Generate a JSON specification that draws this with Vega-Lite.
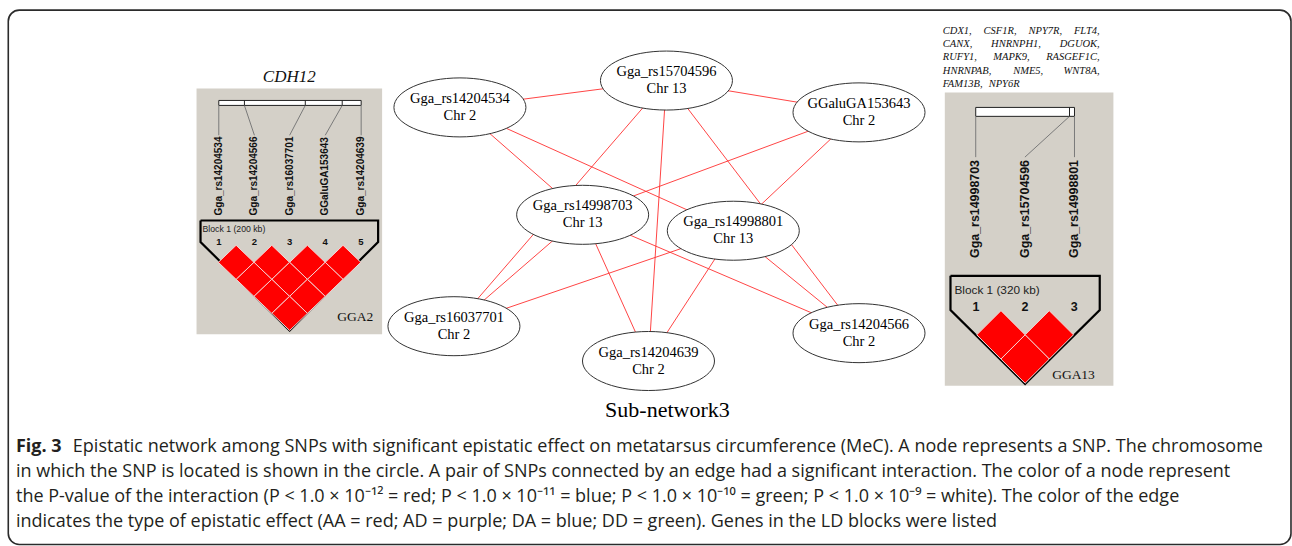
{
 "$schema": "https://vega.github.io/schema/vega-lite/v6.json",
 "width": 1292, "height": 546, "padding": 0,
 "autosize": {"type": "fit", "contains": "padding"},
 "background": "white",
 "config": {"view": {"stroke": null}},
 "datasets": {
  "nodes": [
   {"id": "Gga_rs15704596", "chr": "Chr 13", "x": 668, "y": 81},
   {"id": "Gga_rs14204534", "chr": "Chr 2", "x": 461, "y": 108},
   {"id": "GGaluGA153643", "chr": "Chr 2", "x": 861, "y": 113},
   {"id": "Gga_rs14998703", "chr": "Chr 13", "x": 584, "y": 216},
   {"id": "Gga_rs14998801", "chr": "Chr 13", "x": 735, "y": 232},
   {"id": "Gga_rs16037701", "chr": "Chr 2", "x": 455, "y": 328},
   {"id": "Gga_rs14204639", "chr": "Chr 2", "x": 650, "y": 363},
   {"id": "Gga_rs14204566", "chr": "Chr 2", "x": 861, "y": 335}
  ],
  "edges": [
   {"s": "Gga_rs14204534", "t": "Gga_rs15704596"},
   {"s": "Gga_rs15704596", "t": "GGaluGA153643"},
   {"s": "Gga_rs14204534", "t": "Gga_rs14998703"},
   {"s": "Gga_rs14204534", "t": "Gga_rs14998801"},
   {"s": "Gga_rs15704596", "t": "Gga_rs16037701"},
   {"s": "Gga_rs15704596", "t": "Gga_rs14204639"},
   {"s": "Gga_rs15704596", "t": "Gga_rs14204566"},
   {"s": "GGaluGA153643", "t": "Gga_rs14998703"},
   {"s": "GGaluGA153643", "t": "Gga_rs14998801"},
   {"s": "Gga_rs14998703", "t": "Gga_rs16037701"},
   {"s": "Gga_rs14998703", "t": "Gga_rs14204639"},
   {"s": "Gga_rs14998703", "t": "Gga_rs14204566"},
   {"s": "Gga_rs14998801", "t": "Gga_rs16037701"},
   {"s": "Gga_rs14998801", "t": "Gga_rs14204639"},
   {"s": "Gga_rs14998801", "t": "Gga_rs14204566"}
  ]
 },
 "encoding": {
  "x": {"field": "x", "type": "quantitative", "scale": {"domain": [0, 1292], "nice": false, "zero": false}, "axis": null},
  "y": {"field": "y", "type": "quantitative", "scale": {"domain": [0, 546], "nice": false, "zero": false, "reverse": true}, "axis": null}
 },
 "layer": [
  {"data": {"values": [{"x": 8.3, "x2": 1294, "y": 10.2, "y2": 547.5}]},
   "mark": {"type": "rect", "fillOpacity": 0, "stroke": "#2b2b2b", "strokeWidth": 1.6, "cornerRadius": 11},
   "encoding": {"x2": {"field": "x2"}, "y2": {"field": "y2"}}},
  {"data": {"values": [{"x": 197, "x2": 383, "y": 89, "y2": 336}, {"x": 947, "x2": 1116, "y": 93, "y2": 388}]},
   "mark": {"type": "rect", "fill": "#d4d0c8"},
   "encoding": {"x2": {"field": "x2"}, "y2": {"field": "y2"}}},
  {"data": {"values": [{"x": 219.3, "x2": 362, "y": 101, "y2": 106}, {"x": 978, "x2": 1077, "y": 108, "y2": 117}]},
   "mark": {"type": "rect", "fill": "white", "stroke": "#222222", "strokeWidth": 1},
   "encoding": {"x2": {"field": "x2"}, "y2": {"field": "y2"}}},
  {"data": {"values": [
    {"x": 219.3, "y": 106, "x2": 219.3, "y2": 136},
    {"x": 245, "y": 106, "x2": 255, "y2": 136},
    {"x": 306, "y": 106, "x2": 290.3, "y2": 136},
    {"x": 343, "y": 106, "x2": 326, "y2": 136},
    {"x": 362, "y": 106, "x2": 362, "y2": 136},
    {"x": 978, "y": 117, "x2": 978, "y2": 158},
    {"x": 1072, "y": 117, "x2": 1027.3, "y2": 158},
    {"x": 1077, "y": 117, "x2": 1077, "y2": 158}]},
   "mark": {"type": "rule", "stroke": "#7a7a7a", "strokeWidth": 1},
   "encoding": {"x2": {"field": "x2"}, "y2": {"field": "y2"}}},
  {"data": {"values": [
    {"x": 245, "y": 101, "x2": 245, "y2": 106},
    {"x": 306, "y": 101, "x2": 306, "y2": 106},
    {"x": 343, "y": 101, "x2": 343, "y2": 106},
    {"x": 1072, "y": 108, "x2": 1072, "y2": 117}]},
   "mark": {"type": "rule", "stroke": "#222222", "strokeWidth": 1},
   "encoding": {"x2": {"field": "x2"}, "y2": {"field": "y2"}}},
  {"data": {"values": [
    {"g": "L", "o": 1, "x": 201, "y": 221.7}, {"g": "L", "o": 2, "x": 379, "y": 221.7}, {"g": "L", "o": 3, "x": 379, "y": 243.3},
    {"g": "L", "o": 4, "x": 290.3, "y": 332.3}, {"g": "L", "o": 5, "x": 201, "y": 243.3}, {"g": "L", "o": 6, "x": 201, "y": 221.7},
    {"g": "R", "o": 1, "x": 952.7, "y": 277.3}, {"g": "R", "o": 2, "x": 1102.3, "y": 277.3}, {"g": "R", "o": 3, "x": 1102.3, "y": 311.7},
    {"g": "R", "o": 4, "x": 1027.5, "y": 386}, {"g": "R", "o": 5, "x": 952.7, "y": 311.7}, {"g": "R", "o": 6, "x": 952.7, "y": 277.3}]},
   "mark": {"type": "line", "stroke": "#000000", "strokeWidth": 2.2, "strokeJoin": "miter", "interpolate": "linear"},
   "encoding": {"detail": {"field": "g"}, "order": {"field": "o", "type": "quantitative"}}},
  {"data": {"values": [
    {"x": 236.7, "y": 263.8}, {"x": 272.4, "y": 263.8}, {"x": 308.1, "y": 263.8}, {"x": 343.8, "y": 263.8},
    {"x": 254.6, "y": 280.9}, {"x": 290.3, "y": 280.9}, {"x": 326, "y": 280.9},
    {"x": 272.4, "y": 298}, {"x": 308.1, "y": 298},
    {"x": 290.3, "y": 315.1}]},
   "mark": {"type": "point", "shape": "M-1,0L0,-0.96L1,0L0,0.96Z", "size": 1267, "filled": true, "fill": "#ff0000", "fillOpacity": 1, "stroke": "#f4d6d6", "strokeWidth": 1, "opacity": 1}},
  {"data": {"values": [
    {"x": 1003.3, "y": 336.7}, {"x": 1051.7, "y": 336.7}, {"x": 1027.5, "y": 361}]},
   "mark": {"type": "point", "shape": "M-1,0L0,-1L1,0L0,1Z", "size": 2343, "filled": true, "fill": "#ff0000", "fillOpacity": 1, "stroke": "#f4d6d6", "strokeWidth": 1, "opacity": 1}},
  {"data": {"values": [
    {"t": "Gga_rs14204534", "x": 219.3, "y": 216.7},
    {"t": "Gga_rs14204566", "x": 255, "y": 216.7},
    {"t": "Gga_rs16037701", "x": 290.3, "y": 216.7},
    {"t": "GGaluGA153643", "x": 326, "y": 216.7},
    {"t": "Gga_rs14204639", "x": 361.7, "y": 216.7}]},
   "mark": {"type": "text", "angle": 270, "align": "left", "baseline": "middle", "font": "Liberation Sans", "fontWeight": "bold", "fontSize": 10, "fill": "#111111"},
   "encoding": {"text": {"field": "t"}}},
  {"data": {"values": [
    {"t": "Gga_rs14998703", "x": 977.7, "y": 259.3},
    {"t": "Gga_rs15704596", "x": 1027.3, "y": 259.3},
    {"t": "Gga_rs14998801", "x": 1076.7, "y": 259.3}]},
   "mark": {"type": "text", "angle": 270, "align": "left", "baseline": "middle", "font": "Liberation Sans", "fontWeight": "bold", "fontSize": 12.4, "fill": "#111111"},
   "encoding": {"text": {"field": "t"}}},
  {"data": {"values": [
    {"t": "1", "x": 219.3, "y": 243.3}, {"t": "2", "x": 255, "y": 243.3}, {"t": "3", "x": 290.3, "y": 243.3}, {"t": "4", "x": 326, "y": 243.3}, {"t": "5", "x": 361.7, "y": 243.3}]},
   "mark": {"type": "text", "align": "center", "baseline": "middle", "font": "Liberation Sans", "fontWeight": "bold", "fontSize": 9.5, "fill": "#111111"},
   "encoding": {"text": {"field": "t"}}},
  {"data": {"values": [
    {"t": "1", "x": 978.3, "y": 308.3}, {"t": "2", "x": 1027.3, "y": 308.3}, {"t": "3", "x": 1076.7, "y": 308.3}]},
   "mark": {"type": "text", "align": "center", "baseline": "middle", "font": "Liberation Sans", "fontWeight": "bold", "fontSize": 12.5, "fill": "#111111"},
   "encoding": {"text": {"field": "t"}}},
  {"data": {"values": [{"t": "Block 1 (200 kb)", "x": 203, "y": 230.5}]},
   "mark": {"type": "text", "align": "left", "baseline": "middle", "font": "Liberation Sans", "fontSize": 8.7, "fill": "#222222"},
   "encoding": {"text": {"field": "t"}}},
  {"data": {"values": [{"t": "Block 1 (320 kb)", "x": 956.7, "y": 291.7}]},
   "mark": {"type": "text", "align": "left", "baseline": "middle", "font": "Liberation Sans", "fontSize": 11.8, "fill": "#222222"},
   "encoding": {"text": {"field": "t"}}},
  {"data": {"values": [{"t": "GGA2", "x": 356, "y": 318.3}, {"t": "GGA13", "x": 1076, "y": 376.7}]},
   "mark": {"type": "text", "align": "center", "baseline": "middle", "font": "Liberation Serif", "fontSize": 13.5, "fill": "#111111"},
   "encoding": {"text": {"field": "t"}}},
  {"data": {"values": [{"t": "CDH12", "x": 290, "y": 77}]},
   "mark": {"type": "text", "align": "center", "baseline": "middle", "font": "Liberation Serif", "fontStyle": "italic", "fontSize": 17, "fill": "#111111"},
   "encoding": {"text": {"field": "t"}}},
  {"data": {"values": [
    {"t": "CDX1,", "x": 945, "y": 31}, {"t": "CSF1R,", "x": 985.9, "y": 31}, {"t": "NPY7R,", "x": 1030.9, "y": 31}, {"t": "FLT4,", "x": 1076.4, "y": 31},
    {"t": "CANX,", "x": 945, "y": 44.3}, {"t": "HNRNPH1,", "x": 993.4, "y": 44.3}, {"t": "DGUOK,", "x": 1062.2, "y": 44.3},
    {"t": "RUFY1,", "x": 945, "y": 57.6}, {"t": "MAPK9,", "x": 995.6, "y": 57.6}, {"t": "RASGEF1C,", "x": 1048.6, "y": 57.6},
    {"t": "HNRNPAB,", "x": 945, "y": 70.9}, {"t": "NME5,", "x": 1015.5, "y": 70.9}, {"t": "WNT8A,", "x": 1066.1, "y": 70.9},
    {"t": "FAM13B,", "x": 945, "y": 84.2}, {"t": "NPY6R", "x": 991, "y": 84.2}]},
   "mark": {"type": "text", "align": "left", "baseline": "middle", "font": "Liberation Serif", "fontStyle": "italic", "fontSize": 10.5, "fill": "#111111"},
   "encoding": {"text": {"field": "t"}}},
  {"data": {"name": "edges"},
   "transform": [
    {"lookup": "s", "from": {"data": {"name": "nodes"}, "key": "id", "fields": ["x", "y"]}, "as": ["x", "y"]},
    {"lookup": "t", "from": {"data": {"name": "nodes"}, "key": "id", "fields": ["x", "y"]}, "as": ["x2", "y2"]}],
   "mark": {"type": "rule", "stroke": "#ff3030", "strokeWidth": 0.9},
   "encoding": {"x2": {"field": "x2"}, "y2": {"field": "y2"}}},
  {"data": {"name": "nodes"},
   "mark": {"type": "point", "shape": "M1,0C1,0.247,0.552,0.447,0,0.447C-0.552,0.447,-1,0.247,-1,0C-1,-0.247,-0.552,-0.447,0,-0.447C0.552,-0.447,1,-0.247,1,0Z", "size": 17424, "filled": true, "fill": "white", "fillOpacity": 1, "stroke": "#333333", "strokeWidth": 1, "opacity": 1}},
  {"data": {"name": "nodes"},
   "mark": {"type": "text", "align": "center", "baseline": "middle", "dy": -8.5, "font": "Liberation Serif", "fontSize": 14.5, "fill": "#000000"},
   "encoding": {"text": {"field": "id"}}},
  {"data": {"name": "nodes"},
   "mark": {"type": "text", "align": "center", "baseline": "middle", "dy": 8.5, "font": "Liberation Serif", "fontSize": 14.5, "fill": "#000000"},
   "encoding": {"text": {"field": "chr"}}},
  {"data": {"values": [{"t": "Sub-network3", "x": 669, "y": 412}]},
   "mark": {"type": "text", "align": "center", "baseline": "middle", "font": "Liberation Serif", "fontSize": 22, "fill": "#000000"},
   "encoding": {"text": {"field": "t"}}},
  {"data": {"values": [{"t": "Fig. 3", "x": 16, "y": 449}]},
   "mark": {"type": "text", "align": "left", "baseline": "middle", "font": "Open Sans", "fontWeight": "bold", "fontSize": 18, "fill": "#231f20"},
   "encoding": {"text": {"field": "t"}}},
  {"data": {"values": [
    {"t": "Epistatic network among SNPs with significant epistatic effect on metatarsus circumference (MeC). A node represents a SNP. The chromosome", "x": 73, "y": 449},
    {"t": "in which the SNP is located is shown in the circle. A pair of SNPs connected by an edge had a significant interaction. The color of a node represent", "x": 16, "y": 474.5},
    {"t": "the P-value of the interaction (P < 1.0 × 10⁻¹² = red; P < 1.0 × 10⁻¹¹ = blue; P < 1.0 × 10⁻¹⁰ = green; P < 1.0 × 10⁻⁹ = white). The color of the edge", "x": 16, "y": 500},
    {"t": "indicates the type of epistatic effect (AA = red; AD = purple; DA = blue; DD = green). Genes in the LD blocks were listed", "x": 16, "y": 524.5}]},
   "mark": {"type": "text", "align": "left", "baseline": "middle", "font": "Open Sans", "fontSize": 18, "fill": "#231f20"},
   "encoding": {"text": {"field": "t"}}}
 ]
}
